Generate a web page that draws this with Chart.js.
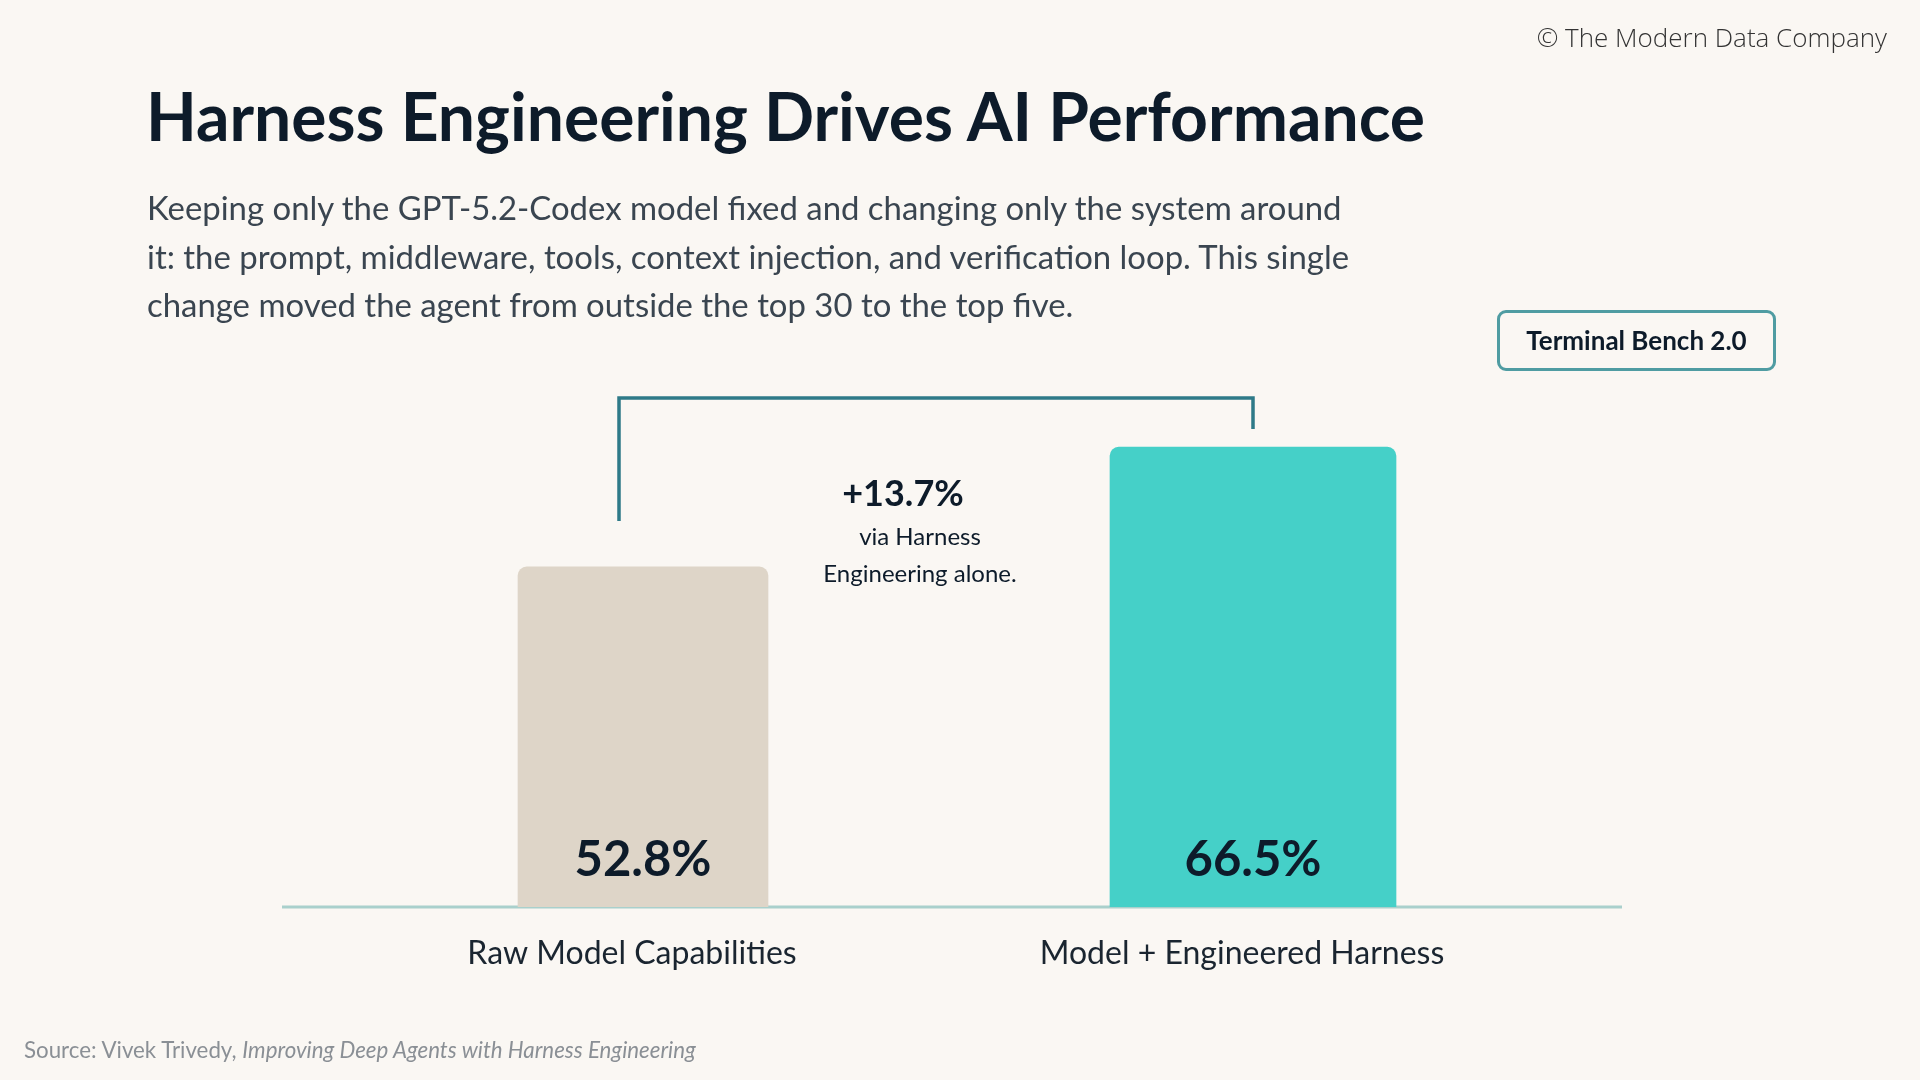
<!DOCTYPE html>
<html>
<head>
<meta charset="utf-8">
<script src="https://cdn.jsdelivr.net/npm/chart.js@4.4.1/dist/chart.umd.min.js"></script>
<style>
  html, body { margin: 0; padding: 0; background: #faf7f3; font-family: Lato, sans-serif; }
  #wrap { position: relative; width: 1920px; height: 1080px; overflow: hidden; }
  #chartBox { position: absolute; left: 0; top: 0; width: 1920px; height: 1080px; }
  .txt { position: absolute; white-space: nowrap; }
  #copy { right: 33px; top: 19px; font-size: 26px; color: #333; font-family: "Open Sans", sans-serif; font-weight: 300; }
  #title { left: 146px; top: 76px; font-size: 66px; font-weight: 700; color: #0d1b2a; }
  #sub { left: 147px; top: 184px; font-size: 32.9px; line-height: 48.5px; color: #3a4550; }
  #badge { left: 1497px; top: 310px; width: 279px; height: 61px; border: 3px solid #4f9ca2; border-radius: 9px;
           box-sizing: border-box; font-size: 26px; font-weight: 700; color: #0d1b2a; text-align: center; line-height: 55px; }
  #src { left: 24px; top: 1036px; font-size: 22.3px; color: #8a8f95; }
</style>
</head>
<body>
<div id="wrap">
  <div id="chartBox"><canvas id="barChart"></canvas></div>
  <div class="txt" id="copy">© The Modern Data Company</div>
  <div class="txt" id="title">Harness Engineering Drives AI Performance</div>
  <div class="txt" id="sub">Keeping only the GPT-5.2-Codex model fixed and changing only the system around<br>it: the prompt, middleware, tools, context injection, and verification loop. This single<br>change moved the agent from outside the top 30 to the top five.</div>
  <div class="txt" id="badge">Terminal Bench 2.0</div>
  <div class="txt" id="src">Source: Vivek Trivedy, <i>Improving Deep Agents with Harness Engineering</i></div>
</div>
<script>
const categories = ['Raw Model Capabilities', 'Model + Engineered Harness'];
const rawValues = [52.8, null];
const harnessValues = [null, 66.5];
const valueLabels = ['52.8%', '66.5%'];
const gainLabel = '+13.7%';
const gainNote = ['via Harness', 'Engineering alone.'];

const overlay = {
    id: 'overlay',
    beforeDatasetsDraw(chart) {
        // baseline extends past the plot area on both sides
        const a = chart.chartArea;
        const ctx = chart.ctx;
        ctx.save();
        ctx.strokeStyle = '#a9d0cc';
        ctx.lineWidth = 3;
        ctx.beginPath();
        ctx.moveTo(a.left - 56, a.bottom);
        ctx.lineTo(a.right + 64, a.bottom);
        ctx.stroke();
        ctx.restore();
    },
    afterDatasetsDraw(chart) {
        const ctx = chart.ctx;
        const x = chart.scales.x;
        ctx.save();
        ctx.textAlign = 'center';
        ctx.textBaseline = 'middle';

        // values inside bars
        ctx.fillStyle = '#0d1b2a';
        ctx.font = '700 49px Lato';
        valueLabels.forEach((t, i) => ctx.fillText(t, x.getPixelForValue(i), 860));

        // category labels
        ctx.fillStyle = '#1a2530';
        ctx.font = '32px Lato';
        categories.forEach((c, i) => ctx.fillText(c, x.getPixelForValue(i) - 11, 954));

        // bracket
        const x0 = x.getPixelForValue(0) - 24;
        const x1 = x.getPixelForValue(1);
        ctx.strokeStyle = '#2e7a88';
        ctx.lineWidth = 3.5;
        ctx.beginPath();
        ctx.moveTo(x0, 521);
        ctx.lineTo(x0, 398);
        ctx.lineTo(x1, 398);
        ctx.lineTo(x1, 429);
        ctx.stroke();

        // gain annotation
        const cx = (x0 + x1) / 2;
        ctx.fillStyle = '#0d1b2a';
        ctx.font = '700 36px Lato';
        ctx.fillText(gainLabel, cx - 33, 494);
        ctx.font = '24px Lato';
        ctx.fillText(gainNote[0], cx - 16, 537);
        ctx.fillText(gainNote[1], cx - 16, 574);
        ctx.restore();
    }
};

new Chart(document.getElementById('barChart'), {
    type: 'bar',
    data: {
        labels: categories,
        datasets: [
            { data: rawValues, backgroundColor: '#ded5c8', barThickness: 250,
              borderRadius: { topLeft: 9, topRight: 9 }, borderSkipped: 'bottom' },
            { data: harnessValues, backgroundColor: '#45d0c8', barThickness: 286,
              borderRadius: { topLeft: 9, topRight: 9 }, borderSkipped: 'bottom' }
        ]
    },
    options: {
        responsive: true,
        maintainAspectRatio: false,
        animation: false,
        layout: { padding: { left: 338, right: 362, top: 302, bottom: 165 } },
        plugins: { legend: { display: false }, tooltip: { enabled: false } },
        datasets: { bar: { grouped: false } },
        scales: {
            x: {
                grid: { display: false },
                ticks: { display: false },
                border: { display: false }
            },
            y: { display: false, min: 13.9, max: 83.1 }
        }
    },
    plugins: [overlay]
});
</script>
</body>
</html>
